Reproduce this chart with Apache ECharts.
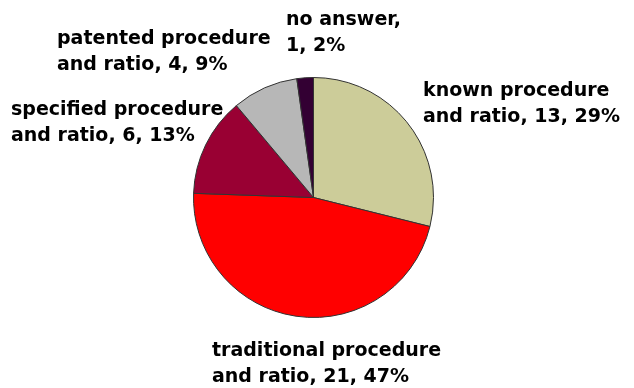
<!DOCTYPE html>
<html>
<head>
<meta charset="utf-8">
<script src="https://cdn.jsdelivr.net/npm/echarts@6/dist/echarts.min.js"></script>
<style>
  html, body { margin: 0; padding: 0; background: #fff; }
  #chart { width: 634px; height: 388px; }
</style>
</head>
<body>
<div id="chart"></div>
<script>
// Procedure categories and counts, clockwise from 12 o'clock
const categories = ['known procedure', 'traditional procedure', 'specified procedure', 'patented procedure', 'no answer'];
const counts = [13, 21, 6, 4, 1];
const sliceColors = ['#CCCC99', '#FF0000', '#990033', '#B7B7B7', '#330033'];

// Where each label block sits (top-left corner)
const labelSpots = [
  [423, 78],
  [212, 338],
  [11, 97],
  [57, 26],
  [286, 7]
];

const chart = echarts.init(document.getElementById('chart'));
chart.setOption({
  backgroundColor: '#ffffff',
  animation: false,
  series: [{
    type: 'pie',
    center: [313.5, 197.5],
    radius: 120,
    startAngle: 90,
    clockwise: true,
    percentPrecision: 0,
    data: categories.map((name, i) => ({
      name: name,
      value: counts[i],
      itemStyle: { color: sliceColors[i] }
    })),
    itemStyle: { borderColor: '#333333', borderWidth: 1 },
    label: {
      show: true,
      position: 'outside',
      color: '#000',
      fontFamily: '"DejaVu Sans", sans-serif',
      fontWeight: 'bold',
      fontSize: 19,
      lineHeight: 26,
      align: 'left',
      overflow: 'none',
      formatter: function (p) {
        if (p.dataIndex === 4) {
          return p.name + ',\n' + p.value + ', ' + p.percent + '%';
        }
        return p.name + '\nand ratio, ' + p.value + ', ' + p.percent + '%';
      }
    },
    labelLine: { show: false },
    labelLayout: function (params) {
      const spot = labelSpots[params.dataIndex];
      return { x: spot[0], y: spot[1], align: 'left', verticalAlign: 'top', width: 300 };
    }
  }]
});
</script>
</body>
</html>
